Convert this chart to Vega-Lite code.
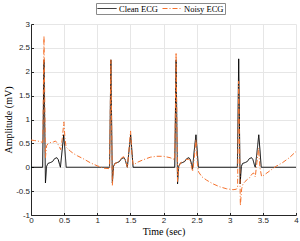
{
  "$schema": "https://vega.github.io/schema/vega-lite/v6.json",
  "width": 265,
  "height": 191,
  "autosize": {"type": "none"},
  "padding": {"left": 31, "top": 24, "right": 4, "bottom": 26},
  "background": "white",
  "config": {"view": {"stroke": null}},
  "data": {"values": [
    {"t":0,"v":0,"s":"Clean ECG"},{"t":0.176,"v":0,"s":"Clean ECG"},{"t":0.196,"v":2.25,"s":"Clean ECG"},{"t":0.218,"v":-0.33,"s":"Clean ECG"},{"t":0.236,"v":0.02,"s":"Clean ECG"},{"t":0.256,"v":0.08,"s":"Clean ECG"},{"t":0.296,"v":0.1,"s":"Clean ECG"},{"t":0.326,"v":0.12,"s":"Clean ECG"},{"t":0.356,"v":0.18,"s":"Clean ECG"},{"t":0.391,"v":0.2,"s":"Clean ECG"},{"t":0.411,"v":0.16,"s":"Clean ECG"},{"t":0.431,"v":0.06,"s":"Clean ECG"},{"t":0.444,"v":0,"s":"Clean ECG"},{"t":0.466,"v":0.3,"s":"Clean ECG"},{"t":0.494,"v":0.68,"s":"Clean ECG"},{"t":0.511,"v":0.38,"s":"Clean ECG"},{"t":0.531,"v":0,"s":"Clean ECG"},
    {"t":1.186,"v":0,"s":"Clean ECG"},{"t":1.206,"v":2.25,"s":"Clean ECG"},{"t":1.228,"v":-0.33,"s":"Clean ECG"},{"t":1.246,"v":0.02,"s":"Clean ECG"},{"t":1.266,"v":0.08,"s":"Clean ECG"},{"t":1.306,"v":0.1,"s":"Clean ECG"},{"t":1.336,"v":0.12,"s":"Clean ECG"},{"t":1.366,"v":0.18,"s":"Clean ECG"},{"t":1.401,"v":0.2,"s":"Clean ECG"},{"t":1.421,"v":0.16,"s":"Clean ECG"},{"t":1.441,"v":0.06,"s":"Clean ECG"},{"t":1.454,"v":0,"s":"Clean ECG"},{"t":1.476,"v":0.3,"s":"Clean ECG"},{"t":1.504,"v":0.68,"s":"Clean ECG"},{"t":1.521,"v":0.38,"s":"Clean ECG"},{"t":1.541,"v":0,"s":"Clean ECG"},
    {"t":2.17,"v":0,"s":"Clean ECG"},{"t":2.19,"v":2.25,"s":"Clean ECG"},{"t":2.212,"v":-0.35,"s":"Clean ECG"},{"t":2.23,"v":0.02,"s":"Clean ECG"},{"t":2.25,"v":0.08,"s":"Clean ECG"},{"t":2.29,"v":0.1,"s":"Clean ECG"},{"t":2.32,"v":0.12,"s":"Clean ECG"},{"t":2.35,"v":0.18,"s":"Clean ECG"},{"t":2.385,"v":0.2,"s":"Clean ECG"},{"t":2.405,"v":0.16,"s":"Clean ECG"},{"t":2.425,"v":0.06,"s":"Clean ECG"},{"t":2.438,"v":-0.04,"s":"Clean ECG"},{"t":2.46,"v":0.3,"s":"Clean ECG"},{"t":2.49,"v":0.68,"s":"Clean ECG"},{"t":2.507,"v":0.38,"s":"Clean ECG"},{"t":2.527,"v":0,"s":"Clean ECG"},
    {"t":3.115,"v":0,"s":"Clean ECG"},{"t":3.135,"v":2.27,"s":"Clean ECG"},{"t":3.157,"v":-0.35,"s":"Clean ECG"},{"t":3.175,"v":0.02,"s":"Clean ECG"},{"t":3.195,"v":0.08,"s":"Clean ECG"},{"t":3.235,"v":0.1,"s":"Clean ECG"},{"t":3.265,"v":0.12,"s":"Clean ECG"},{"t":3.295,"v":0.18,"s":"Clean ECG"},{"t":3.33,"v":0.2,"s":"Clean ECG"},{"t":3.35,"v":0.16,"s":"Clean ECG"},{"t":3.37,"v":0.06,"s":"Clean ECG"},{"t":3.385,"v":0,"s":"Clean ECG"},{"t":3.41,"v":0.3,"s":"Clean ECG"},{"t":3.438,"v":0.68,"s":"Clean ECG"},{"t":3.455,"v":0.38,"s":"Clean ECG"},{"t":3.475,"v":0,"s":"Clean ECG"},{"t":4,"v":0,"s":"Clean ECG"},
    {"t":0,"v":0.57,"s":"Noisy ECG"},{"t":0.05,"v":0.56,"s":"Noisy ECG"},{"t":0.1,"v":0.55,"s":"Noisy ECG"},{"t":0.15,"v":0.53,"s":"Noisy ECG"},{"t":0.178,"v":0.52,"s":"Noisy ECG"},{"t":0.196,"v":2.75,"s":"Noisy ECG"},{"t":0.218,"v":0.2,"s":"Noisy ECG"},{"t":0.235,"v":0.45,"s":"Noisy ECG"},{"t":0.26,"v":0.5,"s":"Noisy ECG"},{"t":0.3,"v":0.52,"s":"Noisy ECG"},{"t":0.34,"v":0.53,"s":"Noisy ECG"},{"t":0.37,"v":0.55,"s":"Noisy ECG"},{"t":0.4,"v":0.5,"s":"Noisy ECG"},{"t":0.43,"v":0.42,"s":"Noisy ECG"},{"t":0.447,"v":0.37,"s":"Noisy ECG"},{"t":0.472,"v":0.6,"s":"Noisy ECG"},{"t":0.496,"v":0.95,"s":"Noisy ECG"},{"t":0.513,"v":0.6,"s":"Noisy ECG"},{"t":0.53,"v":0.42,"s":"Noisy ECG"},{"t":0.56,"v":0.38,"s":"Noisy ECG"},{"t":0.6,"v":0.33,"s":"Noisy ECG"},{"t":0.65,"v":0.28,"s":"Noisy ECG"},{"t":0.7,"v":0.24,"s":"Noisy ECG"},{"t":0.8,"v":0.17,"s":"Noisy ECG"},{"t":0.9,"v":0.09,"s":"Noisy ECG"},{"t":1.0,"v":0.03,"s":"Noisy ECG"},{"t":1.1,"v":-0.02,"s":"Noisy ECG"},{"t":1.186,"v":-0.03,"s":"Noisy ECG"},
    {"t":1.206,"v":2.25,"s":"Noisy ECG"},{"t":1.228,"v":-0.38,"s":"Noisy ECG"},{"t":1.245,"v":0.0,"s":"Noisy ECG"},{"t":1.27,"v":0.08,"s":"Noisy ECG"},{"t":1.3,"v":0.1,"s":"Noisy ECG"},{"t":1.34,"v":0.14,"s":"Noisy ECG"},{"t":1.37,"v":0.2,"s":"Noisy ECG"},{"t":1.4,"v":0.22,"s":"Noisy ECG"},{"t":1.425,"v":0.15,"s":"Noisy ECG"},{"t":1.445,"v":0.05,"s":"Noisy ECG"},{"t":1.456,"v":0.0,"s":"Noisy ECG"},{"t":1.478,"v":0.35,"s":"Noisy ECG"},{"t":1.503,"v":0.76,"s":"Noisy ECG"},{"t":1.522,"v":0.3,"s":"Noisy ECG"},{"t":1.54,"v":0.06,"s":"Noisy ECG"},{"t":1.56,"v":0.06,"s":"Noisy ECG"},{"t":1.6,"v":0.1,"s":"Noisy ECG"},{"t":1.7,"v":0.16,"s":"Noisy ECG"},{"t":1.8,"v":0.21,"s":"Noisy ECG"},{"t":1.9,"v":0.23,"s":"Noisy ECG"},{"t":2.0,"v":0.23,"s":"Noisy ECG"},{"t":2.1,"v":0.2,"s":"Noisy ECG"},{"t":2.17,"v":0.16,"s":"Noisy ECG"},
    {"t":2.19,"v":2.4,"s":"Noisy ECG"},{"t":2.212,"v":-0.3,"s":"Noisy ECG"},{"t":2.23,"v":0.0,"s":"Noisy ECG"},{"t":2.26,"v":0.1,"s":"Noisy ECG"},{"t":2.3,"v":0.12,"s":"Noisy ECG"},{"t":2.34,"v":0.16,"s":"Noisy ECG"},{"t":2.38,"v":0.17,"s":"Noisy ECG"},{"t":2.4,"v":0.14,"s":"Noisy ECG"},{"t":2.425,"v":0.0,"s":"Noisy ECG"},{"t":2.44,"v":-0.09,"s":"Noisy ECG"},{"t":2.465,"v":0.2,"s":"Noisy ECG"},{"t":2.49,"v":0.58,"s":"Noisy ECG"},{"t":2.51,"v":0.1,"s":"Noisy ECG"},{"t":2.53,"v":-0.1,"s":"Noisy ECG"},{"t":2.58,"v":-0.2,"s":"Noisy ECG"},{"t":2.65,"v":-0.27,"s":"Noisy ECG"},{"t":2.75,"v":-0.35,"s":"Noisy ECG"},{"t":2.85,"v":-0.41,"s":"Noisy ECG"},{"t":2.95,"v":-0.45,"s":"Noisy ECG"},{"t":3.05,"v":-0.47,"s":"Noisy ECG"},{"t":3.1,"v":-0.46,"s":"Noisy ECG"},{"t":3.118,"v":-0.42,"s":"Noisy ECG"},
    {"t":3.135,"v":1.8,"s":"Noisy ECG"},{"t":3.16,"v":-0.8,"s":"Noisy ECG"},{"t":3.18,"v":-0.45,"s":"Noisy ECG"},{"t":3.2,"v":-0.35,"s":"Noisy ECG"},{"t":3.23,"v":-0.3,"s":"Noisy ECG"},{"t":3.27,"v":-0.25,"s":"Noisy ECG"},{"t":3.3,"v":-0.22,"s":"Noisy ECG"},{"t":3.33,"v":-0.15,"s":"Noisy ECG"},{"t":3.36,"v":-0.12,"s":"Noisy ECG"},{"t":3.385,"v":-0.2,"s":"Noisy ECG"},{"t":3.41,"v":0.1,"s":"Noisy ECG"},{"t":3.435,"v":0.4,"s":"Noisy ECG"},{"t":3.455,"v":0.0,"s":"Noisy ECG"},{"t":3.48,"v":-0.19,"s":"Noisy ECG"},{"t":3.5,"v":-0.18,"s":"Noisy ECG"},{"t":3.6,"v":-0.08,"s":"Noisy ECG"},{"t":3.7,"v":0.02,"s":"Noisy ECG"},{"t":3.8,"v":0.1,"s":"Noisy ECG"},{"t":3.9,"v":0.2,"s":"Noisy ECG"},{"t":4.0,"v":0.33,"s":"Noisy ECG"}
  ]},
  "mark": {"type": "line", "strokeWidth": 1, "clip": true},
  "encoding": {
    "x": {"field": "t", "type": "quantitative",
      "scale": {"domain": [0, 4], "nice": false, "zero": false},
      "axis": {"values": [0,0.5,1,1.5,2,2.5,3,3.5,4], "labelExpr": "'' + datum.value",
        "title": "Time (sec)", "titleFont": "Liberation Serif", "titleFontSize": 10, "titleFontWeight": "normal", "titleColor": "#000000", "titlePadding": 2,
        "labelFont": "Liberation Sans", "labelFontSize": 8, "labelColor": "#262626", "labelPadding": 4,
        "domainColor": "#262626", "tickColor": "#262626", "tickSize": -2.5,
        "gridColor": "#E6E6E6", "labelFlush": false}},
    "y": {"field": "v", "type": "quantitative",
      "scale": {"domain": [-1, 3], "nice": false, "zero": false},
      "axis": {"values": [-1,-0.5,0,0.5,1,1.5,2,2.5,3], "labelExpr": "'' + datum.value",
        "title": "Amplitude (mV)", "titleFont": "Liberation Serif", "titleFontSize": 10, "titleFontWeight": "normal", "titleColor": "#000000", "titlePadding": 2,
        "labelFont": "Liberation Sans", "labelFontSize": 8, "labelColor": "#262626", "labelPadding": 4,
        "domainColor": "#262626", "tickColor": "#262626", "tickSize": -2.5,
        "gridColor": "#E6E6E6", "labelFlush": false}},
    "color": {"field": "s", "type": "nominal",
      "scale": {"domain": ["Clean ECG", "Noisy ECG"], "range": ["#000000", "#F5722D"]},
      "legend": {"orient": "none", "legendX": 65, "legendY": -21, "direction": "horizontal", "title": null,
        "strokeColor": "#8a8a8a", "fillColor": "white", "padding": 1, "symbolType": "stroke", "symbolSize": 361,
        "symbolStrokeWidth": 1, "labelFont": "Liberation Serif", "labelFontSize": 8.5, "labelColor": "#000000",
        "columnPadding": 4, "labelOffset": 2, "clipHeight": 9}},
    "strokeDash": {"field": "s", "type": "nominal",
      "scale": {"domain": ["Clean ECG", "Noisy ECG"], "range": [[1, 0], [5, 2, 1, 2]]},
      "legend": {"orient": "none", "legendX": 65, "legendY": -21, "direction": "horizontal", "title": null}}
  }
}
